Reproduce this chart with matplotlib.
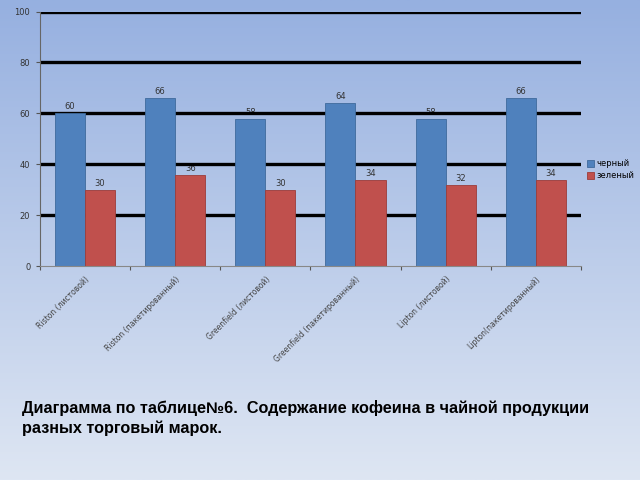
import numpy as np
import matplotlib
matplotlib.use('Agg')
import matplotlib.pyplot as plt

categories = ["Riston (листовой)", "Riston (пакетированный)", "Greenfield (листовой)",
              "Greenfield (пакетированный)", "Lipton (листовой)", "Lipton(пакетированный)"]
black_tea = [60, 66, 58, 64, 58, 66]
green_tea = [30, 36, 30, 34, 32, 34]
series_names = ["черный", "зеленый"]
y_ticks = [0, 20, 40, 60, 80, 100]

fig = plt.figure(figsize=(6.4, 4.8), dpi=100)

# gradient background
bg = fig.add_axes([0, 0, 1, 1], zorder=-10)
top = np.array([150, 176, 224]) / 255
bottom = np.array([222, 230, 243]) / 255
t = np.linspace(0, 1, 256)[:, None]
grad = top * (1 - t) + bottom * t
bg.imshow(grad[:, None, :], aspect='auto', extent=[0, 1, 0, 1])
bg.axis('off')

ax = fig.add_axes([0.0625, 0.445, 0.845, 0.531])
ax.set_facecolor('none')

x = np.arange(len(categories))
w = 1 / 3
b1 = ax.bar(x - w / 2, black_tea, w, color='#4f81bd', edgecolor='#3f6a9c', linewidth=0.6,
            label=series_names[0], zorder=2)
b2 = ax.bar(x + w / 2, green_tea, w, color='#c0504d', edgecolor='#9c3c3a', linewidth=0.6,
            label=series_names[1], zorder=2)

for bars in (b1, b2):
    for rect in bars:
        ax.text(rect.get_x() + rect.get_width() / 2, rect.get_height() + 0.8,
                f"{rect.get_height():.0f}", ha='center', va='bottom', fontsize=6,
                color='#333333', zorder=1)

for yv in y_ticks[1:]:
    ax.axhline(yv, color='black', linewidth=2.4, zorder=1.5)

ax.set_xlim(-0.5, len(categories) - 0.5)
ax.set_ylim(0, 100)
ax.set_yticks(y_ticks)
ax.tick_params(axis='y', labelsize=6, labelcolor='#333333', length=3, color='#555555', pad=4)
ax.set_xticks(np.arange(-0.5, len(categories), 1), minor=False)
ax.set_xticklabels([])
ax.tick_params(axis='x', length=3, color='#555555')
ax.set_xticks(x, minor=True)
ax.set_xticklabels(categories, minor=True, rotation=45, ha='right', rotation_mode='anchor',
                   fontsize=5.5, color='#444444')
ax.tick_params(axis='x', which='minor', length=0, pad=6)

for s in ['top', 'right']:
    ax.spines[s].set_visible(False)
ax.spines['left'].set_color('#666666')
ax.spines['bottom'].set_color('#888888')

ax.legend(loc='center left', bbox_to_anchor=(1.005, 0.38), frameon=False, fontsize=6,
          handlelength=0.9, handleheight=0.9, handletextpad=0.3, labelspacing=0.35,
          borderaxespad=0)

fig.text(0.034, 0.15, "Диаграмма по таблице№6.  Содержание кофеина в чайной продукции",
         fontsize=11.7, fontweight='bold', family='Liberation Sans', va='center', color='black')
fig.text(0.034, 0.108, "разных торговый марок.",
         fontsize=11.7, fontweight='bold', family='Liberation Sans', va='center', color='black')

fig.savefig('out.png', dpi=100)
